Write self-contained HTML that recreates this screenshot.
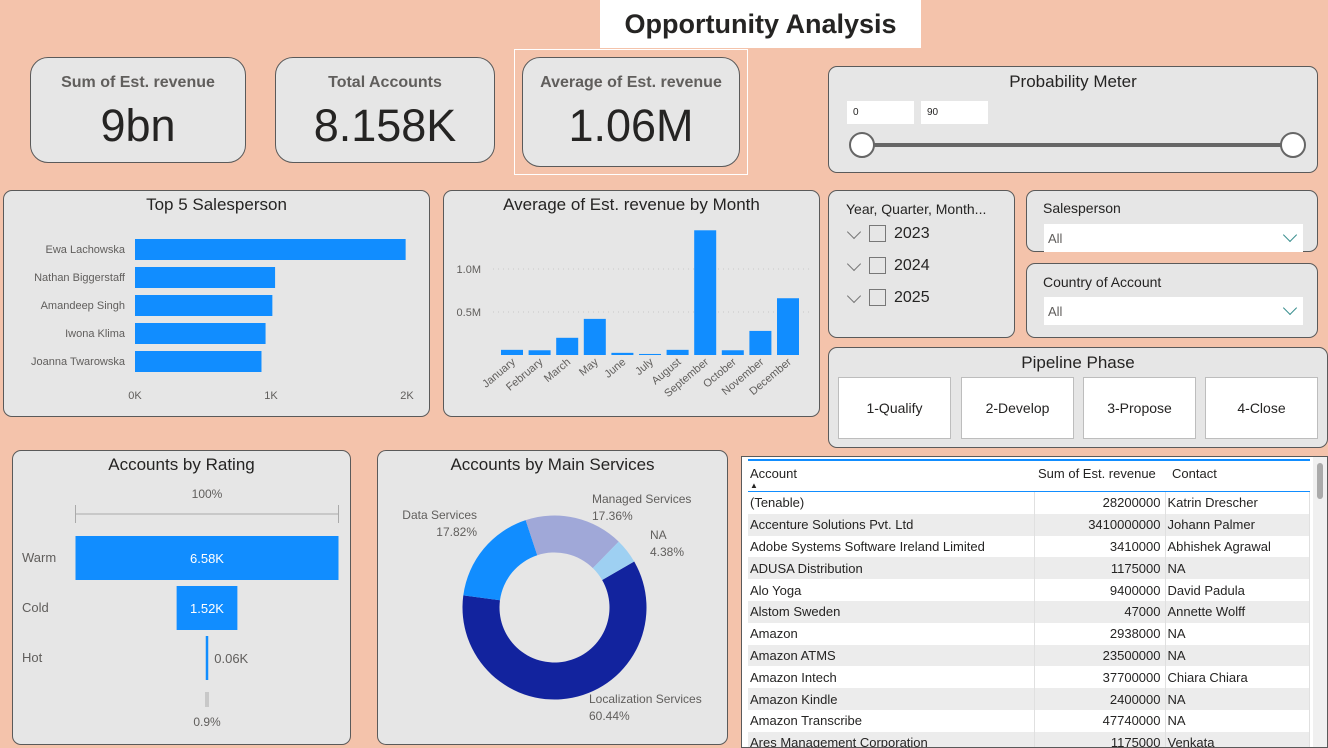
<!DOCTYPE html>
<html><head><meta charset="utf-8">
<style>
*{box-sizing:border-box;margin:0;padding:0}
body{width:1328px;height:748px;overflow:hidden;background:#f4c3ab;font-family:"Liberation Sans",sans-serif;position:relative;color:#252423}
.p{position:absolute;background:#e6e6e6;border:1.5px solid #5a5a5a;border-radius:9px}
.t{position:absolute;left:0;right:0;text-align:center;font-size:17px;color:#252423}
.kl{position:absolute;left:0;right:0;top:16px;text-align:center;font-size:16px;font-weight:bold;color:#605e5c}
.kv{position:absolute;left:0;right:0;top:42px;text-align:center;font-size:45px;color:#252423}
.ab{position:absolute}
.btn{position:absolute;top:377px;width:113px;height:62px;background:#fff;border:1px solid #bdbdbd;font-size:14px;display:flex;align-items:center;justify-content:center;color:#252423}
.dd{position:absolute;left:17px;right:14px;height:28px;background:#fff;font-size:13px;color:#605e5c;padding:7px 0 0 4px}
.dd:after{content:"";position:absolute;right:8px;top:6px;width:9px;height:9px;border-right:1.5px solid #3a8f8f;border-bottom:1.5px solid #3a8f8f;transform:rotate(45deg)}
.yr{position:absolute;left:16px;font-size:16px;color:#252423}
.yr .ch{display:inline-block;width:10px;height:10px;border-right:1.3px solid #777;border-bottom:1.3px solid #777;transform:rotate(45deg);margin:0 10px 3px 4px;vertical-align:middle}
.yr .cb{display:inline-block;width:17px;height:17px;border:1.3px solid #777;vertical-align:middle;margin-right:8px}
table{border-collapse:collapse;font-size:13px;position:absolute;left:6px;top:3px;width:562px}
td{height:21.8px;padding:0 0 0 2px;white-space:nowrap;border-right:1px solid #e0e0e0}
tr:nth-child(odd) td{background:#fff}tr:nth-child(even) td{background:#ececec}
td.n{text-align:right;padding-right:4px}
</style></head><body>
<div class="ab" style="left:600px;top:0;width:321px;height:48px;background:#fff;font-size:27px;font-weight:bold;text-align:center;padding-top:9px">Opportunity Analysis</div>

<div class="p" style="left:30px;top:57px;width:216px;height:106px;border-radius:18px"><div class="kl">Sum of Est. revenue</div><div class="kv">9bn</div></div>
<div class="p" style="left:275px;top:57px;width:220px;height:106px;border-radius:18px"><div class="kl">Total Accounts</div><div class="kv">8.158K</div></div>
<div class="ab" style="left:514px;top:49px;width:234px;height:126px;border:1px solid #fff"></div>
<div class="p" style="left:522px;top:57px;width:218px;height:110px;border-radius:18px"><div class="kl">Average of Est. revenue</div><div class="kv">1.06M</div></div>

<div class="p" style="left:828px;top:66px;width:490px;height:107px">
<div class="t" style="top:5px">Probability Meter</div>
<div class="ab" style="left:18px;top:34px;width:67px;height:23px;background:#fff;font-size:10px;padding:6px 0 0 6px">0</div>
<div class="ab" style="left:92px;top:34px;width:67px;height:23px;background:#fff;font-size:10px;padding:6px 0 0 6px">90</div>
<div class="ab" style="left:32px;top:76px;width:432px;height:4px;background:#666"></div>
<div class="ab" style="left:20px;top:65px;width:26px;height:26px;border-radius:50%;background:#fff;border:2px solid #666"></div>
<div class="ab" style="left:451px;top:65px;width:26px;height:26px;border-radius:50%;background:#fff;border:2px solid #666"></div>
</div>

<div class="p" style="left:3px;top:190px;width:427px;height:227px">
<div class="t" style="top:4px">Top 5 Salesperson</div>
<svg id="top5" width="427" height="227" style="position:absolute;left:-1.5px;top:-1.5px"></svg></div>

<div class="p" style="left:443px;top:190px;width:377px;height:227px">
<div class="t" style="top:4px">Average of Est. revenue by Month</div>
<svg id="month" width="377" height="227" style="position:absolute;left:-1.5px;top:-1.5px"></svg></div>

<div class="p" style="left:828px;top:190px;width:187px;height:148px">
<div class="ab" style="left:17px;top:10px;font-size:14px">Year, Quarter, Month...</div>
<div class="yr" style="top:34px"><span class="ch"></span><span class="cb"></span>2023</div>
<div class="yr" style="top:66px"><span class="ch"></span><span class="cb"></span>2024</div>
<div class="yr" style="top:98px"><span class="ch"></span><span class="cb"></span>2025</div>
</div>
<div class="p" style="left:1026px;top:190px;width:292px;height:62px">
<div class="ab" style="left:16px;top:9px;font-size:14px">Salesperson</div>
<div class="dd" style="top:33px">All</div></div>
<div class="p" style="left:1026px;top:263px;width:292px;height:75px">
<div class="ab" style="left:16px;top:10px;font-size:14px">Country of Account</div>
<div class="dd" style="top:33px">All</div></div>

<div class="p" style="left:828px;top:347px;width:500px;height:101px">
<div class="t" style="top:5px">Pipeline Phase</div></div>
<div class="btn" style="left:838px">1-Qualify</div>
<div class="btn" style="left:961px">2-Develop</div>
<div class="btn" style="left:1083px">3-Propose</div>
<div class="btn" style="left:1205px">4-Close</div>

<div class="p" style="left:12px;top:450px;width:339px;height:295px">
<div class="t" style="top:4px">Accounts by Rating</div>
<svg id="funnel" width="339" height="295" style="position:absolute;left:-1.5px;top:-1.5px"></svg></div>

<div class="p" style="left:377px;top:450px;width:351px;height:295px">
<div class="t" style="top:4px">Accounts by Main Services</div>
<svg id="donut" width="351" height="295" style="position:absolute;left:-1.5px;top:-1.5px"></svg></div>

<div class="ab" style="left:741px;top:456px;width:587px;height:292px;background:#fff;border:1.5px solid #5a5a5a;overflow:hidden">
<div class="ab" style="left:6px;top:2px;width:562px;height:2px;background:#118dff"></div>
<div class="ab" style="left:6px;top:4px;width:562px;height:31px;background:#fff;font-size:13px">
<span class="ab" style="left:2px;top:5px">Account</span>
<span class="ab" style="left:2px;top:20px;font-size:8px">&#9650;</span>
<span class="ab" style="left:290px;top:5px">Sum of Est. revenue</span>
<span class="ab" style="left:424px;top:5px">Contact</span></div>
<div class="ab" style="left:6px;top:34px;width:562px;height:1.5px;background:#118dff"></div>
<table style="top:35px"><colgroup><col style="width:286px"><col style="width:131px"><col></colgroup>
<tr><td>(Tenable)</td><td class="n">28200000</td><td>Katrin Drescher</td></tr>
<tr><td>Accenture Solutions Pvt. Ltd</td><td class="n">3410000000</td><td>Johann Palmer</td></tr>
<tr><td>Adobe Systems Software Ireland Limited</td><td class="n">3410000</td><td>Abhishek Agrawal</td></tr>
<tr><td>ADUSA Distribution</td><td class="n">1175000</td><td>NA</td></tr>
<tr><td>Alo Yoga</td><td class="n">9400000</td><td>David Padula</td></tr>
<tr><td>Alstom Sweden</td><td class="n">47000</td><td>Annette Wolff</td></tr>
<tr><td>Amazon</td><td class="n">2938000</td><td>NA</td></tr>
<tr><td>Amazon ATMS</td><td class="n">23500000</td><td>NA</td></tr>
<tr><td>Amazon Intech</td><td class="n">37700000</td><td>Chiara Chiara</td></tr>
<tr><td>Amazon Kindle</td><td class="n">2400000</td><td>NA</td></tr>
<tr><td>Amazon Transcribe</td><td class="n">47740000</td><td>NA</td></tr>
<tr><td>Ares Management Corporation</td><td class="n">1175000</td><td>Venkata</td></tr>
</table>
<div class="ab" style="left:571px;top:0;width:14px;height:290px;background:#f0f0f0"><div style="position:absolute;left:4px;top:6px;width:6px;height:36px;background:#aaa;border-radius:3px"></div></div>
</div>

<script>
const NS="http://www.w3.org/2000/svg";
function mk(svg,tag,at,txt){const e=document.createElementNS(NS,tag);for(const k in at)e.setAttribute(k,at[k]);if(txt!==undefined)e.textContent=txt;svg.appendChild(e);return e;}

// Top 5 salesperson
const spNames=["Ewa Lachowska","Nathan Biggerstaff","Amandeep Singh","Iwona Klima","Joanna Twarowska"];
const spValues=[1.99,1.03,1.01,0.96,0.93];
const spTicks=[0,1,2];
const spTickLabels=["0K","1K","2K"];
(function(){
 const s=document.getElementById('top5');
 const x=v=>132+v*136, y=i=>59+i*28;
 spTicks.forEach((t,i)=>{const e=mk(s,'text',{x:x(t),y:209,'text-anchor':'middle','font-size':11,fill:'#605e5c'},spTickLabels[i]);
 
 });
 spNames.forEach((n,i)=>{
  const l=mk(s,'text',{x:122,y:y(i)+4,'text-anchor':'end','font-size':11,fill:'#605e5c'},n);
  
  
  const b=mk(s,'rect',{x:x(0),y:y(i)-10,width:x(spValues[i])-x(0),height:21,fill:'#118dff'});
  
  
 });
})();

// Month chart
const months=["January","February","March","May","June","July","August","September","October","November","December"];
const monthValues=[0.06,0.055,0.2,0.42,0.025,0.012,0.06,1.45,0.055,0.28,0.66];
const monthTicks=[0.5,1.0];
const monthTickLabels=["0.5M","1.0M"];
(function(){
 const s=document.getElementById('month');
 const y=v=>165-v*86, x=i=>69+i*27.6;
 monthTicks.forEach((t,i)=>{
  const gl=mk(s,'line',{x1:50,x2:368,y1:y(t),y2:y(t),stroke:'#c8c8c8','stroke-dasharray':'1 4'});
  
  
  const tl=mk(s,'text',{x:38,y:y(t)+4,'text-anchor':'end','font-size':11,fill:'#605e5c'},monthTickLabels[i]);
  
  
 });
 months.forEach((m,i)=>{
  const b=mk(s,'rect',{x:x(i)-11,y:y(monthValues[i]),width:22,height:monthValues[i]*86,fill:'#118dff'});
  
  
  const cx=x(i)+4, cy=173;
  const l=mk(s,'text',{x:cx,y:cy,'text-anchor':'end','font-size':11,fill:'#605e5c',transform:`rotate(-40 ${cx} ${cy})`},m);
  
  
 });
})();

// Funnel
const ratings=["Warm","Cold","Hot"];
const ratingValues=[6.58,1.52,0.06];
const ratingLabels=["6.58K","1.52K","0.06K"];
(function(){
 const s=document.getElementById('funnel');
 const cx=195, full=263, y=i=>86+i*50;
 const w=v=>Math.max(2.5,v/ratingValues[0]*full);
 mk(s,'text',{x:cx,y:48,'text-anchor':'middle','font-size':12,fill:'#605e5c'},"100%");
 mk(s,'line',{x1:cx-full/2,x2:cx+full/2,y1:64,y2:64,stroke:'#aaa'});
 mk(s,'line',{x1:cx-full/2,x2:cx-full/2,y1:55,y2:73,stroke:'#aaa'});
 mk(s,'line',{x1:cx+full/2,x2:cx+full/2,y1:55,y2:73,stroke:'#aaa'});
 ratings.forEach((r,i)=>{
  const l=mk(s,'text',{x:10,y:y(i)+26,'font-size':13,fill:'#605e5c'},r);
  
  
  const ww=w(ratingValues[i]);
  const b=mk(s,'rect',{x:cx-ww/2,y:y(i),width:ww,height:44,fill:'#118dff'});
  
  
  const inside=ww>40;
  const v=mk(s,'text',{x:inside?cx:cx+ww/2+6,y:y(i)+27,'text-anchor':inside?'middle':'start','font-size':13,fill:inside?'#fff':'#605e5c'},ratingLabels[i]);
  
  
 });
 mk(s,'line',{x1:cx-1,x2:cx-1,y1:242,y2:257,stroke:'#aaa'});
 mk(s,'line',{x1:cx+1,x2:cx+1,y1:242,y2:257,stroke:'#aaa'});
 mk(s,'text',{x:cx,y:276,'text-anchor':'middle','font-size':12,fill:'#605e5c'},"0.9%");
})();

// Donut
const services=["Localization Services","Data Services","Managed Services","NA"];
const serviceValues=[60.44,17.82,17.36,4.38];
const serviceColors=["#12239e","#118dff","#a0a8d8","#9ed0f2"];
(function(){
 const s=document.getElementById('donut');
 const cx=177.5,cy=157.5,R=92,r=55;
 const tot=serviceValues.reduce((a,b)=>a+b,0);
 const pt=(a,rr)=>[cx+rr*Math.sin(a),cy-rr*Math.cos(a)];
 let a0=60*Math.PI/180;
 const labelPos=[[212,253,'start'],[100,69,'end'],[215,53,'start'],[273,89,'start']];
 services.forEach((sv,i)=>{
  const da=serviceValues[i]/tot*2*Math.PI, a1=a0+da, lg=da>Math.PI?1:0;
  const [x1,y1]=pt(a0,R),[x2,y2]=pt(a1,R),[x3,y3]=pt(a1,r),[x4,y4]=pt(a0,r);
  const p=mk(s,'path',{d:`M${x1},${y1}A${R},${R} 0 ${lg} 1 ${x2},${y2}L${x3},${y3}A${r},${r} 0 ${lg} 0 ${x4},${y4}Z`,fill:serviceColors[i]});
  
  
  const lp=labelPos[i];
  const t=mk(s,'text',{x:lp[0],y:lp[1],'text-anchor':lp[2],'font-size':12,fill:'#605e5c'},sv);
  
  
  const t2=mk(s,'text',{x:lp[2]==='end'?lp[0]:lp[0],y:lp[1]+17,'text-anchor':lp[2],'font-size':12,fill:'#605e5c'},serviceValues[i].toFixed(2)+"%");
  
  
  a0=a1;
 });
})();
</script>
</body></html>
